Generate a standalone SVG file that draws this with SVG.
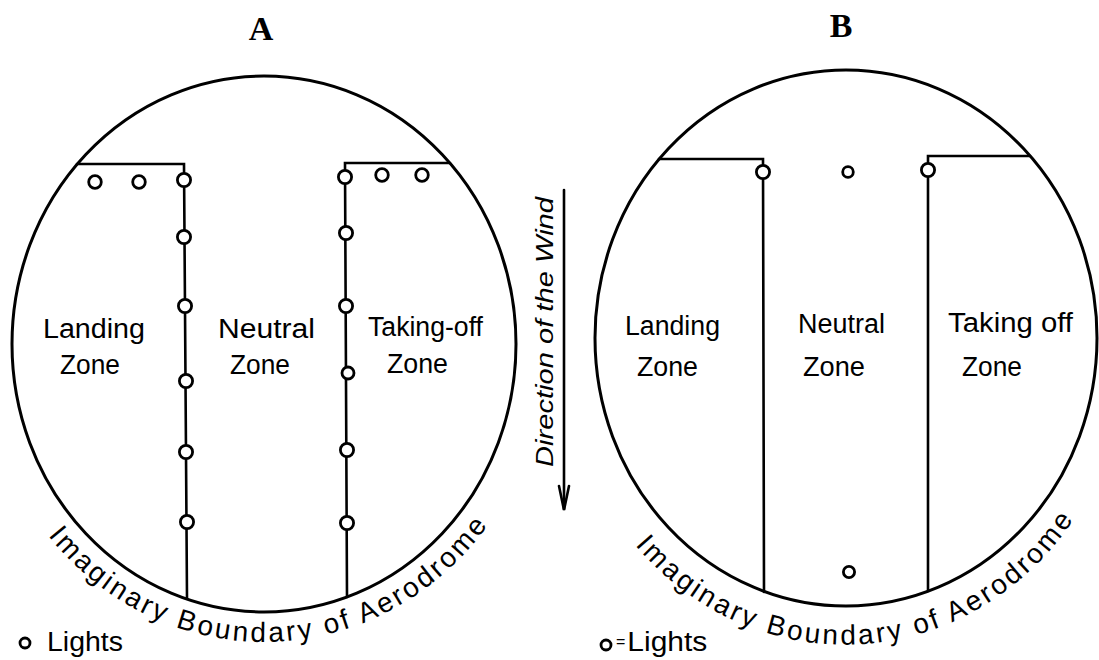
<svg xmlns="http://www.w3.org/2000/svg" width="1099" height="660" viewBox="0 0 1099 660">
<style>
.bnd{fill:none;stroke:#000;stroke-width:3}
.ln{fill:none;stroke:#000;stroke-width:2.6;stroke-linecap:round}
.lt{fill:#fff;stroke:#000;stroke-width:2.8}
.lbl{font-family:"Liberation Sans",Arial,sans-serif;font-size:27px;fill:#000}
.ttl{font-family:"Liberation Serif","Times New Roman",serif;font-weight:bold;font-size:34px;fill:#000}
.curv{font-family:"Liberation Sans",Arial,sans-serif;font-size:28px;fill:#000;letter-spacing:2.8px}
.wind{font-family:"Liberation Sans",Arial,sans-serif;font-style:italic;font-size:24px;fill:#000}
</style>
<defs>
<path id="arcA" d="M 48 535.5 A 282 298 0 0 0 486.2 527.5"/>
<path id="arcB" d="M 635 545 A 281 298 0 0 0 1096 480"/>
</defs>
<rect width="1099" height="660" fill="#fff"/>

<g id="diagramA">
<text class="ttl" x="261" y="40" text-anchor="middle">A</text>
<ellipse class="bnd" cx="264" cy="344" rx="252" ry="268"/>
<g id="connectorsA">
<polyline class="ln" points="77,164 184,164 187,598"/>
<polyline class="ln" points="450,163 345,163 347,597"/>
</g>
<g id="lightsA">
<circle class="lt" cx="95" cy="182" r="6.3"/>
<circle class="lt" cx="139" cy="182" r="6.3"/>
<circle class="lt" cx="184" cy="180" r="6.6"/>
<circle class="lt" cx="184" cy="237" r="6.6"/>
<circle class="lt" cx="185" cy="306" r="6.6"/>
<circle class="lt" cx="186" cy="381" r="6.6"/>
<circle class="lt" cx="186" cy="452" r="6.6"/>
<circle class="lt" cx="187" cy="522" r="6.6"/>
<circle class="lt" cx="382" cy="175" r="6.3"/>
<circle class="lt" cx="422" cy="175" r="6.3"/>
<circle class="lt" cx="345" cy="177" r="6.6"/>
<circle class="lt" cx="346" cy="233" r="6.6"/>
<circle class="lt" cx="346" cy="306" r="6.6"/>
<circle class="lt" cx="348" cy="373" r="6"/>
<circle class="lt" cx="347" cy="450" r="6.6"/>
<circle class="lt" cx="347" cy="523" r="6.6"/>
</g>
<g id="zonesA">
<text class="lbl" x="43" y="338" textLength="102" lengthAdjust="spacingAndGlyphs">Landing</text>
<text class="lbl" x="60" y="374" textLength="60" lengthAdjust="spacingAndGlyphs">Zone</text>
<text class="lbl" x="218" y="338" textLength="97" lengthAdjust="spacingAndGlyphs">Neutral</text>
<text class="lbl" x="230" y="374" textLength="60" lengthAdjust="spacingAndGlyphs">Zone</text>
<text class="lbl" x="368" y="336" textLength="115" lengthAdjust="spacingAndGlyphs">Taking-off</text>
<text class="lbl" x="387" y="373" textLength="61" lengthAdjust="spacingAndGlyphs">Zone</text>
</g>
<text class="curv"><textPath href="#arcA">Imaginary Boundary of Aerodrome</textPath></text>
<g id="legendA">
<circle class="lt" cx="25" cy="643" r="5"/>
<text class="lbl" x="47" y="651" font-size="25" textLength="76" lengthAdjust="spacingAndGlyphs">Lights</text>
</g>
</g>

<g id="wind">
<text class="wind" transform="translate(553,332) rotate(-90)" text-anchor="middle" textLength="270" lengthAdjust="spacingAndGlyphs">Direction of the Wind</text>
<line class="ln" x1="564" y1="190" x2="564" y2="509"/>
<polyline class="ln" points="559,486 564,510 569,486"/>
</g>

<g id="diagramB">
<text class="ttl" x="841" y="37" text-anchor="middle">B</text>
<ellipse class="bnd" cx="846" cy="338" rx="251" ry="268"/>
<g id="connectorsB">
<polyline class="ln" points="659,159 763,159 764,592"/>
<polyline class="ln" points="1030,156 928,156 928,591"/>
</g>
<g id="lightsB">
<circle class="lt" cx="763" cy="172" r="6.6"/>
<circle class="lt" cx="848" cy="172" r="5.3"/>
<circle class="lt" cx="928" cy="170" r="6.6"/>
<circle class="lt" cx="849" cy="572" r="5.6"/>
</g>
<g id="zonesB">
<text class="lbl" x="625" y="335" textLength="95" lengthAdjust="spacingAndGlyphs">Landing</text>
<text class="lbl" x="637" y="376" textLength="61" lengthAdjust="spacingAndGlyphs">Zone</text>
<text class="lbl" x="798" y="333" textLength="87" lengthAdjust="spacingAndGlyphs">Neutral</text>
<text class="lbl" x="803" y="376" textLength="62" lengthAdjust="spacingAndGlyphs">Zone</text>
<text class="lbl" x="948" y="332" textLength="125" lengthAdjust="spacingAndGlyphs">Taking off</text>
<text class="lbl" x="962" y="376" textLength="60" lengthAdjust="spacingAndGlyphs">Zone</text>
</g>
<text class="curv" letter-spacing="3.2"><textPath href="#arcB">Imaginary Boundary of Aerodrome</textPath></text>
<g id="legendB">
<circle class="lt" cx="606" cy="645" r="5"/>
<text class="lbl" x="616" y="651" font-size="25"><tspan font-size="16" dy="-4">=</tspan><tspan dy="4" dx="2" textLength="80" lengthAdjust="spacingAndGlyphs">Lights</tspan></text>
</g>
</g>
</svg>
